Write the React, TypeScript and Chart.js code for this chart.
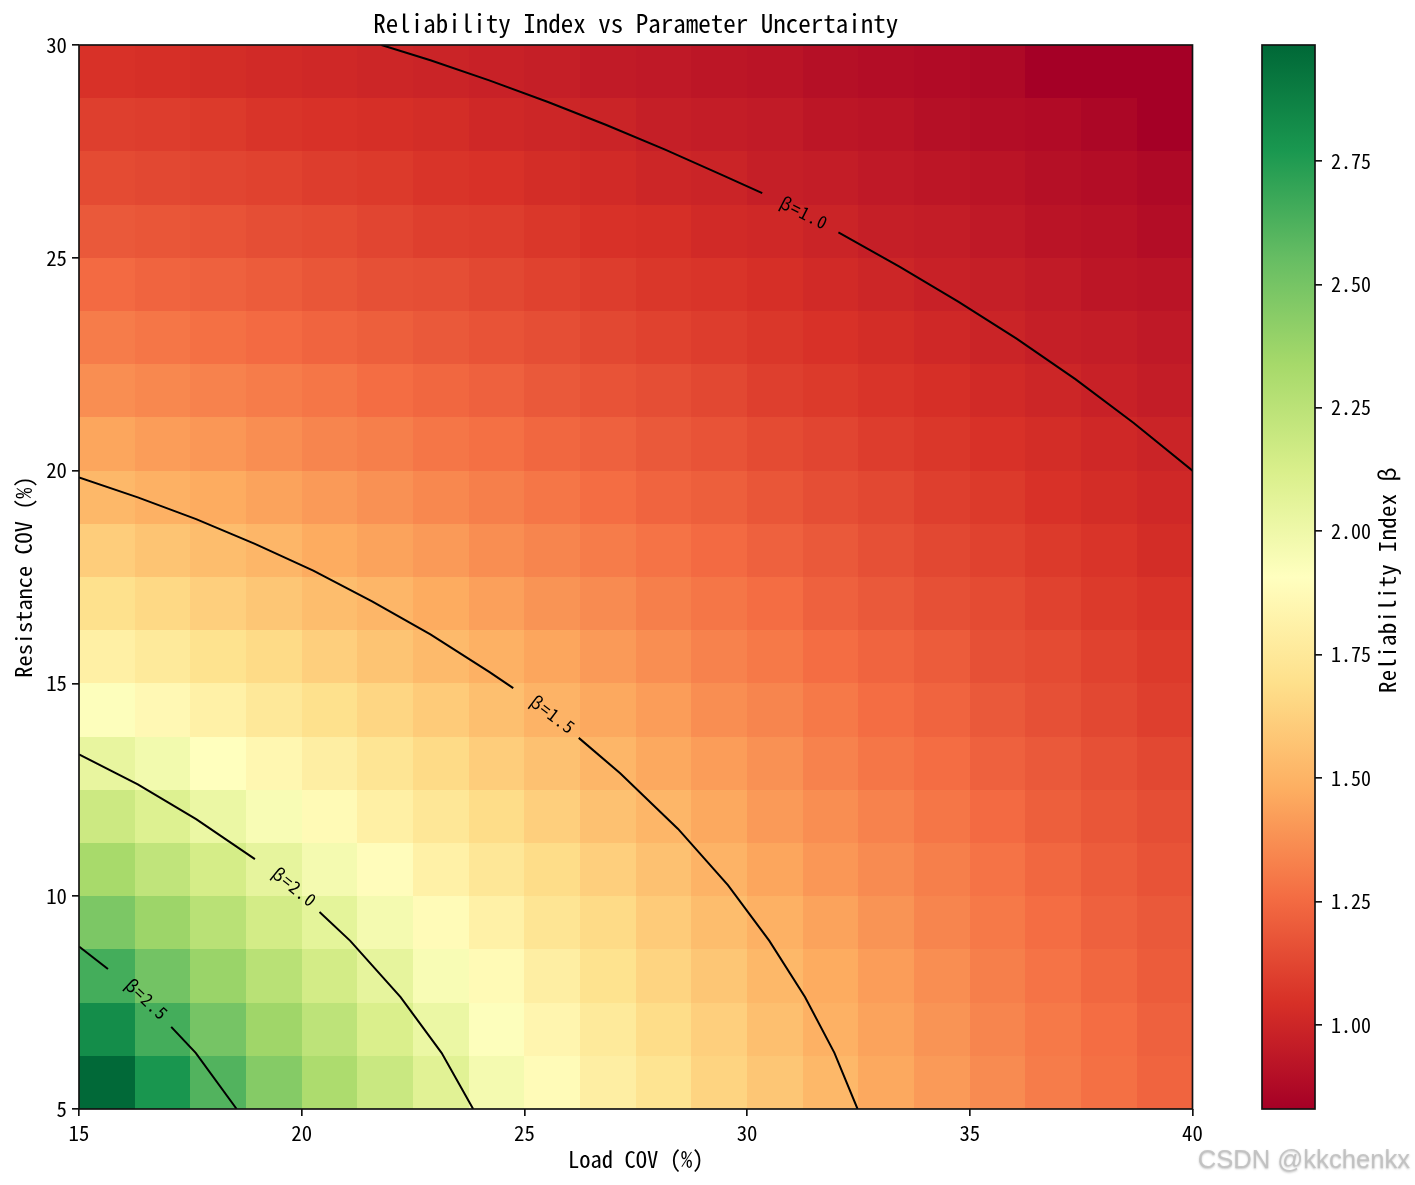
import { useEffect, useRef } from "react";
import { Chart, registerables } from "chart.js";

Chart.register(...registerables);

const FONT = '"Noto Sans Mono CJK SC", "Liberation Mono", "DejaVu Sans Mono", monospace';

const X_MIN = 15;
const X_MAX = 40;
const Y_MIN = 5;
const Y_MAX = 30;
const BETA_MIN = 0.83;
const BETA_MAX = 2.985;

const colorbarTicks = [1, 1.25, 1.5, 1.75, 2, 2.25, 2.5, 2.75];

// RdYlGn
const palette = [
  [165, 0, 38],
  [215, 48, 39],
  [244, 109, 67],
  [253, 174, 97],
  [254, 224, 139],
  [255, 255, 191],
  [217, 239, 139],
  [166, 217, 106],
  [102, 189, 99],
  [26, 152, 80],
  [0, 104, 55],
];

// estimated beta per cell, first row is the bottom one (Resistance COV 5%)
const cellValues = [
  [2.98, 2.78, 2.61, 2.45, 2.31, 2.19, 2.08, 1.97, 1.88, 1.79, 1.72, 1.64, 1.58, 1.52, 1.46, 1.41, 1.36, 1.31, 1.27, 1.23],
  [2.82, 2.65, 2.50, 2.36, 2.24, 2.12, 2.02, 1.92, 1.84, 1.76, 1.68, 1.62, 1.55, 1.49, 1.44, 1.39, 1.34, 1.30, 1.26, 1.22],
  [2.65, 2.51, 2.38, 2.26, 2.15, 2.05, 1.95, 1.87, 1.79, 1.71, 1.64, 1.58, 1.52, 1.47, 1.42, 1.37, 1.32, 1.28, 1.24, 1.20],
  [2.48, 2.37, 2.26, 2.15, 2.06, 1.97, 1.88, 1.81, 1.73, 1.67, 1.60, 1.54, 1.49, 1.44, 1.39, 1.34, 1.30, 1.26, 1.22, 1.19],
  [2.33, 2.23, 2.14, 2.05, 1.97, 1.89, 1.81, 1.74, 1.68, 1.62, 1.56, 1.50, 1.45, 1.40, 1.36, 1.32, 1.28, 1.24, 1.20, 1.17],
  [2.18, 2.10, 2.02, 1.95, 1.87, 1.80, 1.74, 1.68, 1.62, 1.56, 1.51, 1.46, 1.41, 1.37, 1.33, 1.29, 1.25, 1.21, 1.18, 1.15],
  [2.04, 1.98, 1.91, 1.85, 1.79, 1.73, 1.67, 1.61, 1.56, 1.51, 1.46, 1.42, 1.38, 1.33, 1.29, 1.26, 1.22, 1.19, 1.16, 1.13],
  [1.92, 1.86, 1.81, 1.75, 1.70, 1.65, 1.60, 1.55, 1.50, 1.46, 1.42, 1.37, 1.34, 1.30, 1.26, 1.23, 1.19, 1.16, 1.13, 1.10],
  [1.80, 1.76, 1.71, 1.67, 1.62, 1.57, 1.53, 1.49, 1.45, 1.41, 1.37, 1.33, 1.30, 1.26, 1.23, 1.20, 1.16, 1.14, 1.11, 1.08],
  [1.70, 1.66, 1.62, 1.58, 1.54, 1.51, 1.47, 1.43, 1.39, 1.36, 1.32, 1.29, 1.26, 1.22, 1.19, 1.16, 1.14, 1.11, 1.08, 1.06],
  [1.61, 1.57, 1.54, 1.51, 1.47, 1.44, 1.41, 1.37, 1.34, 1.31, 1.28, 1.25, 1.22, 1.19, 1.16, 1.13, 1.11, 1.08, 1.06, 1.03],
  [1.52, 1.49, 1.47, 1.44, 1.41, 1.38, 1.35, 1.32, 1.29, 1.26, 1.23, 1.21, 1.18, 1.15, 1.13, 1.10, 1.08, 1.05, 1.03, 1.01],
  [1.45, 1.42, 1.40, 1.37, 1.34, 1.32, 1.29, 1.27, 1.24, 1.22, 1.19, 1.17, 1.14, 1.12, 1.09, 1.07, 1.05, 1.03, 1.01, 0.99],
  [1.37, 1.35, 1.33, 1.31, 1.29, 1.26, 1.24, 1.22, 1.19, 1.17, 1.15, 1.13, 1.10, 1.08, 1.06, 1.04, 1.02, 1.00, 0.98, 0.96],
  [1.31, 1.29, 1.27, 1.25, 1.23, 1.21, 1.19, 1.17, 1.15, 1.13, 1.11, 1.09, 1.07, 1.05, 1.03, 1.01, 0.99, 0.97, 0.96, 0.94],
  [1.25, 1.23, 1.22, 1.20, 1.18, 1.16, 1.15, 1.13, 1.11, 1.09, 1.07, 1.06, 1.04, 1.02, 1.00, 0.98, 0.97, 0.95, 0.93, 0.92],
  [1.19, 1.18, 1.17, 1.15, 1.14, 1.12, 1.10, 1.09, 1.07, 1.05, 1.04, 1.02, 1.01, 0.99, 0.97, 0.96, 0.94, 0.92, 0.91, 0.89],
  [1.14, 1.13, 1.12, 1.11, 1.09, 1.08, 1.06, 1.05, 1.03, 1.02, 1.00, 0.99, 0.97, 0.96, 0.94, 0.93, 0.92, 0.90, 0.89, 0.87],
  [1.10, 1.09, 1.08, 1.06, 1.05, 1.04, 1.03, 1.01, 1.00, 0.99, 0.97, 0.96, 0.95, 0.93, 0.92, 0.90, 0.89, 0.88, 0.86, 0.83],
  [1.05, 1.04, 1.03, 1.02, 1.01, 1.00, 0.99, 0.98, 0.97, 0.95, 0.94, 0.93, 0.92, 0.90, 0.89, 0.88, 0.87, 0.83, 0.83, 0.83],
];

// contour lines, split where the inline label sits
const contour10a = [
  { x: 21.79, y: 30 }, { x: 22.89, y: 29.64 }, { x: 24.21, y: 29.17 }, { x: 25.53, y: 28.66 },
  { x: 26.84, y: 28.12 }, { x: 28.16, y: 27.54 }, { x: 29.47, y: 26.93 }, { x: 30.34, y: 26.52 },
];
const contour10b = [
  { x: 32.05, y: 25.6 }, { x: 33.42, y: 24.79 }, { x: 34.74, y: 23.97 }, { x: 36.05, y: 23.1 },
  { x: 37.37, y: 22.15 }, { x: 38.68, y: 21.12 }, { x: 40, y: 20 },
];
const contour15a = [
  { x: 15, y: 19.84 }, { x: 16.32, y: 19.37 }, { x: 17.63, y: 18.86 }, { x: 18.95, y: 18.28 },
  { x: 20.26, y: 17.65 }, { x: 21.58, y: 16.93 }, { x: 22.89, y: 16.15 }, { x: 24.21, y: 15.27 }, { x: 24.75, y: 14.89 },
];
const contour15b = [
  { x: 26.22, y: 13.72 }, { x: 27.15, y: 12.89 }, { x: 28.45, y: 11.58 }, { x: 29.57, y: 10.26 },
  { x: 30.5, y: 8.95 }, { x: 31.3, y: 7.63 }, { x: 31.96, y: 6.32 }, { x: 32.48, y: 5 },
];
const contour20a = [
  { x: 15, y: 13.33 }, { x: 16.32, y: 12.63 }, { x: 17.63, y: 11.81 }, { x: 18.95, y: 10.87 },
];
const contour20b = [
  { x: 20.4, y: 9.63 }, { x: 21.09, y: 8.95 }, { x: 22.22, y: 7.63 }, { x: 23.14, y: 6.32 }, { x: 23.85, y: 5 },
];
const contour25a = [
  { x: 15, y: 8.82 }, { x: 15.65, y: 8.29 },
];
const contour25b = [
  { x: 17.07, y: 6.93 }, { x: 17.62, y: 6.32 }, { x: 18.54, y: 5 },
];
const contourSegments = [contour10a, contour10b, contour15a, contour15b, contour20a, contour20b, contour25a, contour25b];

const contourLabels = [
  { text: "β=1.0", x: 31.28, y: 26.06, angle: 27 },
  { text: "β=1.5", x: 25.64, y: 14.27, angle: 37 },
  { text: "β=2.0", x: 19.84, y: 10.22, angle: 39 },
  { text: "β=2.5", x: 16.52, y: 7.58, angle: 43 },
];

function betaColor(v: number) {
  const t = Math.min(Math.max((v - BETA_MIN) / (BETA_MAX - BETA_MIN), 0), 1) * (palette.length - 1);
  const i = Math.min(Math.floor(t), palette.length - 2);
  const f = t - i;
  const c = palette[i].map((a, k) => Math.round(a + (palette[i + 1][k] - a) * f));
  return `rgb(${c[0]},${c[1]},${c[2]})`;
}

const heatmapPlugin = {
  id: "heatmap",
  beforeDatasetsDraw(chart: any) {
    const { ctx, scales } = chart;
    const rows = cellValues.length;
    const cols = cellValues[0].length;
    cellValues.forEach((row, r) => {
      row.forEach((v, c) => {
        const x0 = Math.round(scales.x.getPixelForValue(X_MIN + ((X_MAX - X_MIN) * c) / cols));
        const x1 = Math.round(scales.x.getPixelForValue(X_MIN + ((X_MAX - X_MIN) * (c + 1)) / cols));
        const y0 = Math.round(scales.y.getPixelForValue(Y_MIN + ((Y_MAX - Y_MIN) * r) / rows));
        const y1 = Math.round(scales.y.getPixelForValue(Y_MIN + ((Y_MAX - Y_MIN) * (r + 1)) / rows));
        ctx.fillStyle = betaColor(v);
        ctx.fillRect(x0, y1, x1 - x0, y0 - y1);
      });
    });
  },
};

const annotationsPlugin = {
  id: "annotations",
  afterDatasetsDraw(chart: any) {
    const { ctx, scales, chartArea } = chart;
    ctx.save();
    ctx.fillStyle = "#000";
    ctx.font = `17.5px ${FONT}`;
    ctx.letterSpacing = "1px";
    ctx.textAlign = "center";
    ctx.textBaseline = "middle";
    contourLabels.forEach((l) => {
      ctx.save();
      ctx.translate(scales.x.getPixelForValue(l.x), scales.y.getPixelForValue(l.y));
      ctx.rotate((l.angle * Math.PI) / 180);
      ctx.fillText(l.text, 0, 0);
      ctx.restore();
    });
    ctx.restore();

    ctx.save();
    ctx.strokeStyle = "#111";
    ctx.lineWidth = 1.67;
    ctx.strokeRect(chartArea.left, chartArea.top, chartArea.right - chartArea.left, chartArea.bottom - chartArea.top);
    ctx.restore();
  },
  afterDraw(chart: any) {
    const { ctx } = chart;
    ctx.save();
    ctx.font = '25.6px "Liberation Sans", sans-serif';
    ctx.textAlign = "right";
    ctx.textBaseline = "middle";
    ctx.shadowColor = "rgba(120,120,120,0.5)";
    ctx.shadowBlur = 2;
    ctx.shadowOffsetY = 1;
    ctx.fillStyle = "rgba(190,190,190,0.85)";
    ctx.fillText("CSDN @kkchenkx", 1410, 1161);
    ctx.restore();
  },
};

const colorbarPlugin = {
  id: "colorbar",
  beforeDatasetsDraw(chart: any) {
    const { ctx, chartArea, scales } = chart;
    const yLow = scales.y.getPixelForValue(BETA_MIN);
    const yHigh = scales.y.getPixelForValue(BETA_MAX);
    const grad = ctx.createLinearGradient(0, yLow, 0, yHigh);
    palette.forEach((c, i) => {
      grad.addColorStop(i / (palette.length - 1), `rgb(${c[0]},${c[1]},${c[2]})`);
    });
    ctx.fillStyle = grad;
    ctx.fillRect(chartArea.left, yHigh, chartArea.right - chartArea.left, yLow - yHigh);
  },
  afterDraw(chart: any) {
    const { ctx, chartArea } = chart;
    ctx.save();
    ctx.strokeStyle = "#111";
    ctx.lineWidth = 1.67;
    ctx.strokeRect(chartArea.left, chartArea.top, chartArea.right - chartArea.left, chartArea.bottom - chartArea.top);
    ctx.fillStyle = "#000";
    ctx.font = `22.9px ${FONT}`;
    ctx.textAlign = "center";
    ctx.textBaseline = "middle";
    ctx.letterSpacing = "0.3px";
    ctx.translate(chartArea.right + 72, (chartArea.top + chartArea.bottom) / 2 + 3);
    ctx.rotate(-Math.PI / 2);
    ctx.fillText("Reliability Index β", 0, 0);
    ctx.restore();
  },
};

export default function App() {
  const mainRef = useRef<HTMLCanvasElement>(null);
  const barRef = useRef<HTMLCanvasElement>(null);

  useEffect(() => {
    if (!mainRef.current || !barRef.current) return;

    const axisTicks = { color: "#000", font: { family: FONT, size: 20.8 }, padding: 5, stepSize: 5, maxRotation: 0 };
    const axisGrid = { drawOnChartArea: false, drawTicks: true, tickLength: 7, color: "#111", lineWidth: 1.67 };

    const main = new Chart(mainRef.current, {
      type: "scatter",
      data: {
        datasets: contourSegments.map((points) => ({
          data: points,
          showLine: true,
          borderColor: "#000",
          borderWidth: 2,
          pointRadius: 0,
          tension: 0,
        })),
      },
      options: {
        responsive: false,
        animation: false,
        devicePixelRatio: 1,
        layout: { padding: { right: 222.5 } },
        plugins: {
          legend: { display: false },
          tooltip: { enabled: false },
          title: {
            display: true,
            fullSize: false,
            text: "Reliability Index vs Parameter Uncertainty",
            color: "#000",
            font: { family: FONT, size: 25, weight: "normal", lineHeight: 1 },
            padding: { top: 11, bottom: 9 },
          },
        },
        scales: {
          x: {
            type: "linear",
            min: X_MIN,
            max: X_MAX,
            ticks: axisTicks,
            grid: axisGrid,
            border: { display: false },
            title: {
              display: true,
              text: "Load COV (%)",
              color: "#000",
              font: { family: FONT, size: 22.6, lineHeight: 1 },
              padding: { top: 0, bottom: 14 },
            },
            afterFit(scale: any) {
              scale.height = 76;
            },
          },
          y: {
            type: "linear",
            min: Y_MIN,
            max: Y_MAX,
            ticks: axisTicks,
            grid: axisGrid,
            border: { display: false },
            title: {
              display: true,
              text: "Resistance COV (%)",
              color: "#000",
              font: { family: FONT, size: 22.4, lineHeight: 1 },
              padding: { top: 12, bottom: 0 },
            },
            afterFit(scale: any) {
              scale.width = 79;
            },
          },
        },
      },
      plugins: [heatmapPlugin, annotationsPlugin],
    } as any);

    const bar = new Chart(barRef.current, {
      type: "scatter",
      data: { datasets: [] },
      options: {
        responsive: false,
        animation: false,
        devicePixelRatio: 1,
        layout: { padding: { left: 10, top: 45, bottom: 76 } },
        plugins: { legend: { display: false }, tooltip: { enabled: false } },
        scales: {
          x: { type: "linear", display: false, min: 0, max: 1 },
          y: {
            type: "linear",
            position: "right",
            min: BETA_MIN,
            max: BETA_MAX,
            afterBuildTicks(scale: any) {
              scale.ticks = colorbarTicks.map((value) => ({ value }));
            },
            ticks: {
              color: "#000",
              font: { family: FONT, size: 20 },
              padding: 9,
              callback: (v: any) => Number(v).toFixed(2),
            },
            grid: axisGrid,
            border: { display: false },
            afterFit(scale: any) {
              scale.width = 100;
            },
          },
        },
      },
      plugins: [colorbarPlugin],
    } as any);

    return () => {
      main.destroy();
      bar.destroy();
    };
  }, []);

  return (
    <div style={{ position: "absolute", left: 0, top: 0, width: 1415, height: 1185, background: "#fff" }}>
      <canvas ref={mainRef} width={1415} height={1185} style={{ position: "absolute", left: 0, top: 0 }} />
      <canvas ref={barRef} width={163} height={1185} style={{ position: "absolute", left: 1252, top: 0 }} />
    </div>
  );
}
